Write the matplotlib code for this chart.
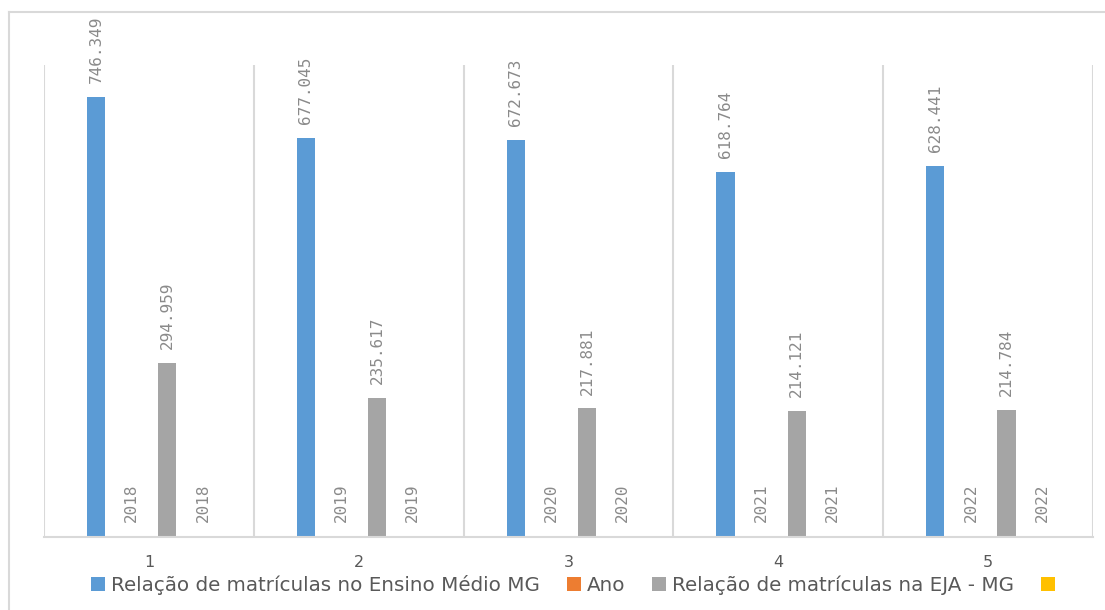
import matplotlib
matplotlib.use("Agg")
import matplotlib.pyplot as plt
from matplotlib.lines import Line2D
from matplotlib.patches import Patch
import numpy as np

categories = ["1", "2", "3", "4", "5"]
ensino_medio = [746349, 677045, 672673, 618764, 628441]
ano = [2018, 2019, 2020, 2021, 2022]
eja = [294959, 235617, 217881, 214121, 214784]
ano2 = [2018, 2019, 2020, 2021, 2022]

series_names = ["Relação de matrículas no Ensino Médio MG", "Ano",
                "Relação de matrículas na EJA - MG", ""]
colors = ["#5b9bd5", "#ed7d31", "#a5a5a5", "#ffc000"]

W, H = 1105, 610
fig = plt.figure(figsize=(W / 100, H / 100), dpi=100)
ax = fig.add_axes([44 / W, 1 - 537 / H, (1093 - 44) / W, (537 - 65) / H])

x = np.arange(1, len(categories) + 1)
width = 0.087
offsets = [-0.252, -0.082, 0.088, 0.258]
all_series = [ensino_medio, ano, eja, ano2]

def fmt(v):
    return f"{v:,}".replace(",", ".") if v >= 10000 else str(v)

for s, (vals, col, off) in enumerate(zip(all_series, colors, offsets)):
    ax.bar(x + off, vals, width=width, color=col, zorder=2)
    for xi, v in zip(x + off, vals):
        ax.annotate(fmt(v), (xi, v), xytext=(0, 10), textcoords="offset points",
                    rotation=90, ha="center", va="bottom", fontsize=11.5,
                    family="DejaVu Sans Mono", color="#8a8a8a",
                    annotation_clip=False)

ax.set_xlim(0.5, len(categories) + 0.5)
ax.set_ylim(0, 800000)
ax.set_yticks([])
ax.set_xticks(x)
ax.set_xticklabels(categories, fontsize=11.5, color="#595959")
ax.tick_params(axis="x", length=0, pad=13)
for b in np.arange(0.5, len(categories) + 1, 1.0):
    ax.axvline(b, color="#d9d9d9", lw=1.5, zorder=1)
for sp in ["top", "right", "left"]:
    ax.spines[sp].set_visible(False)
ax.spines["bottom"].set_color("#d9d9d9")
ax.spines["bottom"].set_linewidth(1.5)
ax.spines["bottom"].set_zorder(3)

handles = [Patch(facecolor=c, edgecolor="none") for c in colors]
leg = fig.legend(handles, series_names, loc="center", bbox_to_anchor=(576 / W, 1 - 585 / H),
                 ncol=4, frameon=False, fontsize=14.3, handlelength=0.7, handleheight=0.7,
                 handletextpad=0.3, columnspacing=1.35, borderaxespad=0, borderpad=0)
for t in leg.get_texts():
    t.set_color("#595959")

fig.add_artist(Line2D([9 / W, 1.0], [1 - 12 / H, 1 - 12 / H], color="#d9d9d9", lw=1.5,
                      transform=fig.transFigure))
fig.add_artist(Line2D([9 / W, 9 / W], [1 - 12 / H, 0], color="#d9d9d9", lw=1.5,
                      transform=fig.transFigure))

fig.savefig("out.png", dpi=100)
